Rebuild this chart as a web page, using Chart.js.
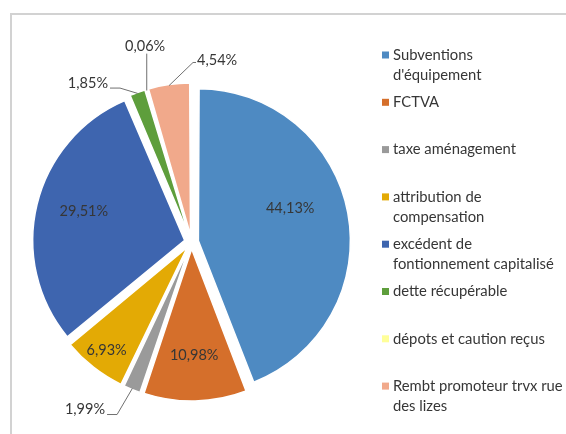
<!DOCTYPE html>
<html>
<head>
<meta charset="utf-8">
<script src="https://cdn.jsdelivr.net/npm/chart.js@4.4.1/dist/chart.umd.min.js"></script>
<style>
  html, body { margin: 0; padding: 0; background: #fff; }
  #wrap { position: relative; width: 566px; height: 434px; overflow: hidden; }
  #frame { position: absolute; left: 10px; top: 13px; width: 600px; height: 500px;
           border-top: 2px solid #d2d2d2; border-left: 2px solid #d2d2d2; }
  #pie { position: absolute; left: 0; top: 0; }
</style>
</head>
<body>
<div id="wrap">
  <div id="frame"></div>
  <canvas id="pie" width="566" height="434"></canvas>
</div>
<script>
'use strict';

// categories (already broken in two lines where the legend wraps them)
const labels = [
  ['Subventions', "d'équipement"],
  ['FCTVA'],
  ['taxe aménagement'],
  ['attribution de', 'compensation'],
  ['excédent de', 'fontionnement capitalisé'],
  ['dette récupérable'],
  ['dépots et caution reçus'],
  ['Rembt promoteur trvx rue', 'des lizes']
]
// share of each item, in %
const shares = [44.13, 10.98, 1.99, 6.93, 29.51, 1.85, 0.06, 4.54]
const colors = ['#4E8AC2', '#D56F2B', '#9A9A9A', '#E3AA05', '#3E65AF', '#5E9E3C', '#FFFF99', '#F1A98B']

const FONT = 'Lato, "Open Sans", sans-serif'
const TEXT = '#363636'
const EXPLODE = 28          // chart.js arc offset, the slice moves offset / 4 px
const SHIFT = EXPLODE / 4

// label placement: [radius ratio, turn from bisector in deg, leader side]
const inside = { 0: [0.64, -8.8], 1: [0.70, 0], 3: [0.86, 0], 4: [0.69, 2.3] }
const outside = {
  2: [1.306, 10.45, 'right'],
  5: [1.248, -13.2, 'right'],
  6: [1.321, 3.1, 'bottom'],
  7: [1.206, 16.2, 'left']
}

const pct = v => v.toFixed(2).replace('.', ',') + '%'
const rad = d => d * Math.PI / 180

// chart.js makes thin exploded slices longer, undo that so all share one radius
const evenRadius = {
  id: 'evenRadius',
  afterDatasetUpdate(chart, args) {
    args.meta.data.forEach(arc => {
      const fix = 1 - Math.sin(Math.min(Math.PI, arc.circumference))
      arc.outerRadius -= SHIFT * fix
    })
  }
}

const sliceLabels = {
  id: 'sliceLabels',
  afterDatasetsDraw(chart) {
    const ctx = chart.ctx
    const meta = chart.getDatasetMeta(0)
    const R = meta.controller.outerRadius
    ctx.save()
    ctx.font = '14.5px ' + FONT
    ctx.fillStyle = TEXT
    ctx.strokeStyle = '#707070'
    ctx.lineWidth = 1
    ctx.textAlign = 'center'
    ctx.textBaseline = 'middle'
    meta.data.forEach((arc, i) => {
      const mid = (arc.startAngle + arc.endAngle) / 2
      const sx = arc.x + Math.cos(mid) * SHIFT
      const sy = arc.y + Math.sin(mid) * SHIFT
      const text = pct(shares[i])
      if (inside[i]) {
        const a = mid + rad(inside[i][1])
        ctx.fillText(text, sx + Math.cos(a) * inside[i][0] * R, sy + Math.sin(a) * inside[i][0] * R)
        return
      }
      const [k, turn, side] = outside[i]
      const a = mid + rad(turn)
      const tx = arc.x + Math.cos(a) * k * R
      const ty = arc.y + Math.sin(a) * k * R
      const w = ctx.measureText(text).width
      const px = sx + Math.cos(mid) * (R - 1)
      const py = sy + Math.sin(mid) * (R - 1)
      ctx.beginPath()
      if (side === 'right') {
        ctx.moveTo(tx + w / 2 + 2, ty + 5)
        ctx.lineTo(tx + w / 2 + 12, ty + 5)
      } else if (side === 'left') {
        ctx.moveTo(tx - w / 2 - 1, ty + 2)
        ctx.lineTo(tx - w / 2 - 4, ty + 2)
      } else {
        ctx.moveTo(px, ty + 7)
      }
      ctx.lineTo(px, py)
      ctx.stroke()
      ctx.fillText(text, tx, ty)
    })
    ctx.restore()
  }
}

const sideLegend = {
  id: 'sideLegend',
  afterDraw(chart) {
    const ctx = chart.ctx
    const x = 382, top = 55, step = 47.3, line = 20
    ctx.save()
    ctx.font = '14.8px ' + FONT
    ctx.textAlign = 'left'
    ctx.textBaseline = 'middle'
    chart.data.labels.forEach((lab, i) => {
      const y = top + i * step
      ctx.fillStyle = chart.data.datasets[0].backgroundColor[i]
      ctx.fillRect(x, y - 3.5, 7, 7)
      ctx.fillStyle = TEXT
      lab.forEach((txt, j) => ctx.fillText(txt, x + 11, y + j * line))
    })
    ctx.restore()
  }
}

new Chart(document.getElementById('pie').getContext('2d'), {
  type: 'pie',
  data: {
    labels: labels,
    datasets: [{
      data: shares,
      backgroundColor: colors,
      borderColor: '#ffffff',
      borderWidth: 1.5,
      offset: EXPLODE,
      hoverOffset: 0
    }]
  },
  options: {
    responsive: false,
    animation: false,
    events: [],
    layout: { padding: { left: 24.75, top: 75.25, right: 207.75, bottom: 25.25 } },
    plugins: {
      legend: { display: false },
      tooltip: { enabled: false }
    }
  },
  plugins: [evenRadius, sliceLabels, sideLegend]
})
</script>
</body>
</html>
